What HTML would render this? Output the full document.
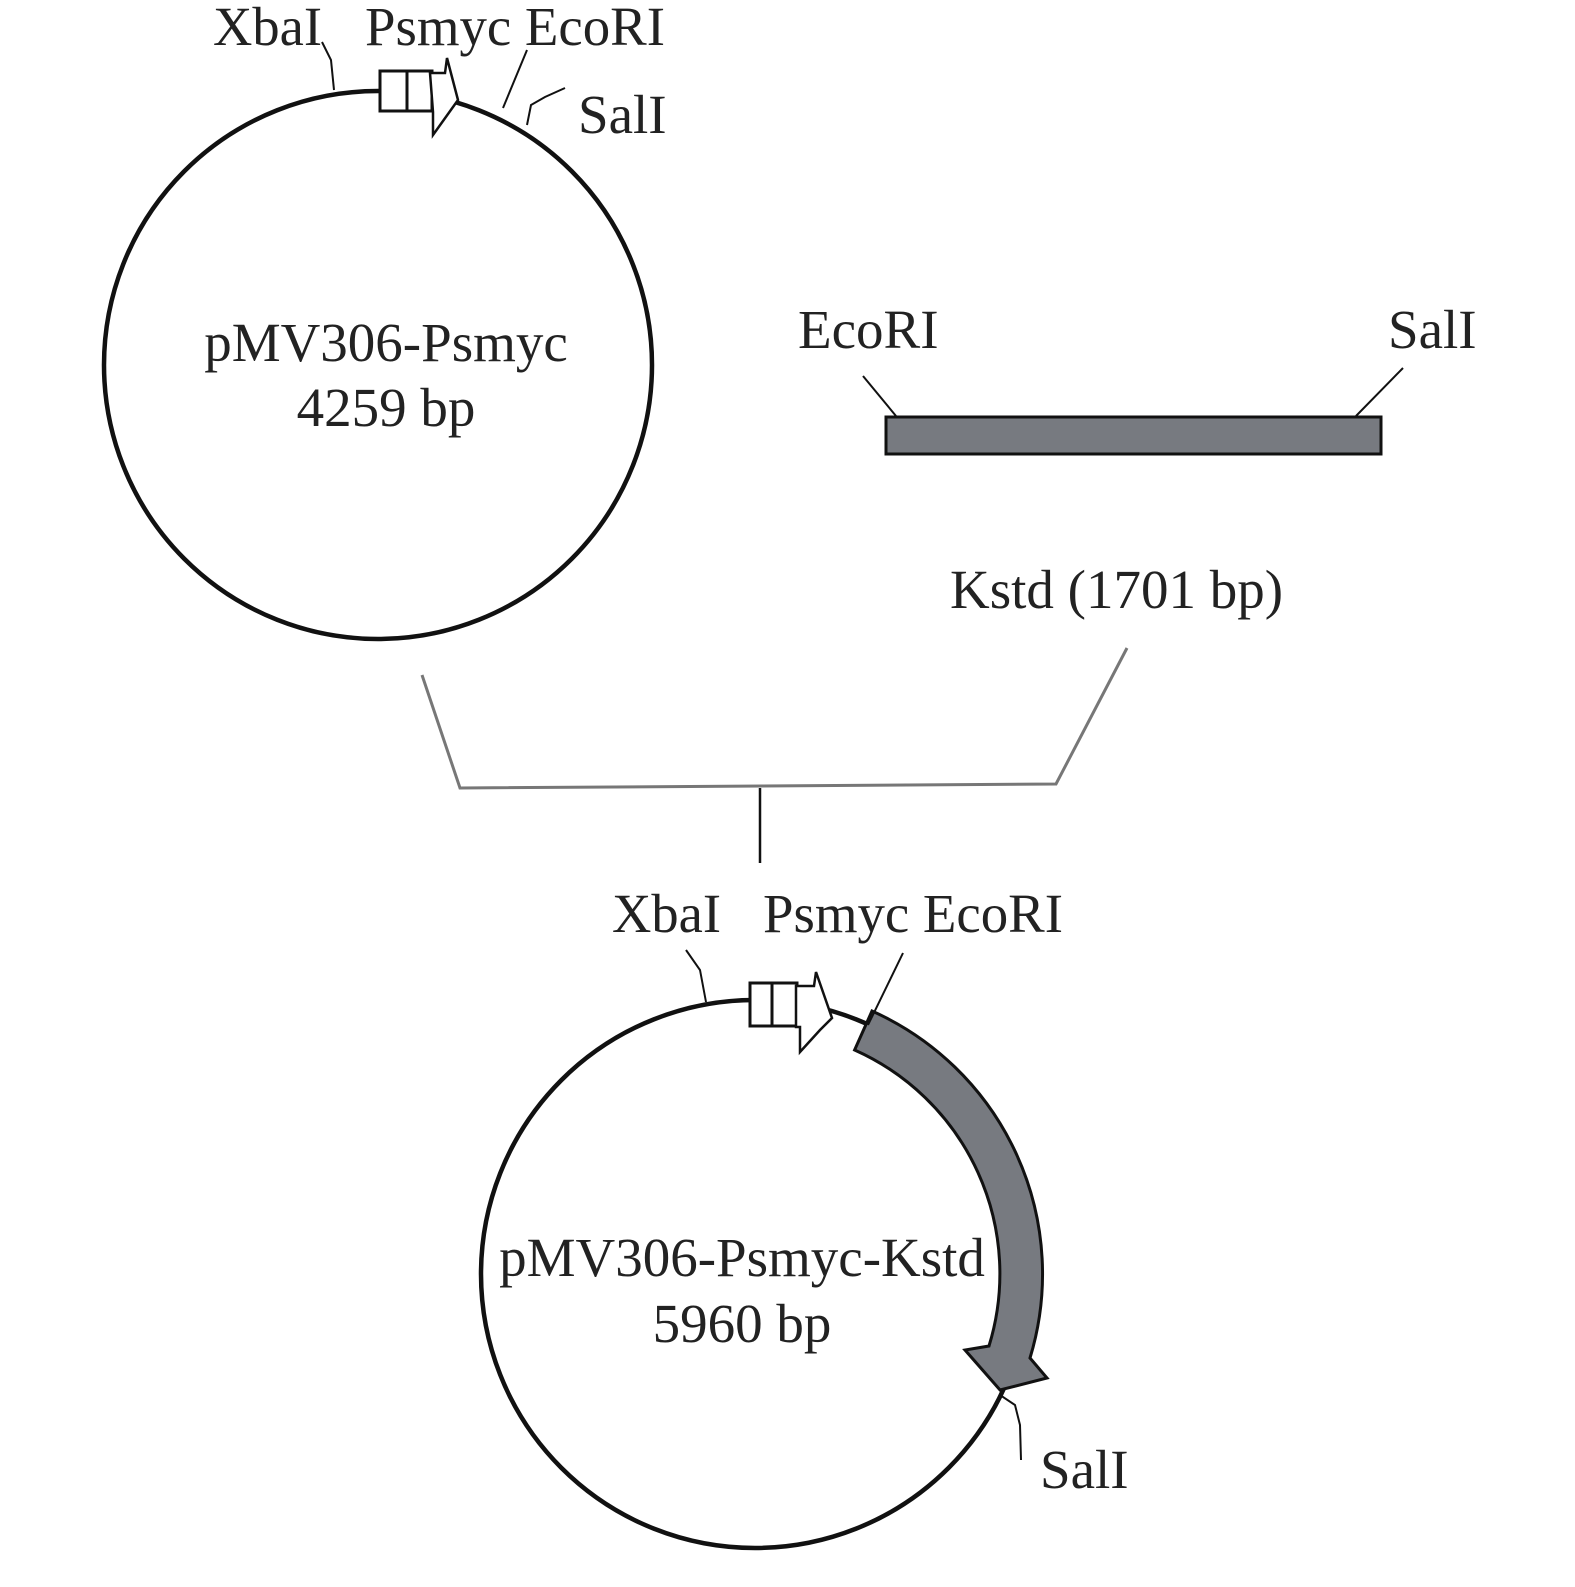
<!DOCTYPE html>
<html><head><style>html,body{margin:0;padding:0;background:#fff}</style></head><body>
<svg width="1575" height="1582" viewBox="0 0 1575 1582" xmlns="http://www.w3.org/2000/svg" font-family="Liberation Serif, serif" font-size="55" fill="#222">
<!-- top plasmid -->
<circle cx="378" cy="365" r="274" fill="none" stroke="#111" stroke-width="4.5"/>
<rect x="380" y="71" width="52" height="40" fill="#fff" stroke="#111" stroke-width="3"/>
<line x1="407" y1="71" x2="407" y2="111" stroke="#111" stroke-width="3"/>
<polygon points="430,73 445,73 447,58 458,100 433,135 433,112" fill="#fff" stroke="#111" stroke-width="2.5"/>
<polyline points="334,90 331,60 322,42" fill="none" stroke="#111" stroke-width="2"/>
<line x1="503" y1="108" x2="527" y2="50" stroke="#111" stroke-width="2"/>
<polyline points="527,125 531,105 545,97 565,88" fill="none" stroke="#111" stroke-width="2"/>
<text x="213" y="45" textLength="109" lengthAdjust="spacingAndGlyphs">XbaI</text>
<text x="365" y="45" textLength="300" lengthAdjust="spacingAndGlyphs">Psmyc EcoRI</text>
<text x="578" y="133">SalI</text>
<text x="386" y="361" text-anchor="middle">pMV306-Psmyc</text>
<text x="386" y="426" text-anchor="middle">4259 bp</text>
<!-- fragment -->
<text x="798" y="348">EcoRI</text>
<text x="1388" y="348">SalI</text>
<line x1="863" y1="376" x2="896" y2="416" stroke="#111" stroke-width="2"/>
<line x1="1403" y1="368" x2="1356" y2="416" stroke="#111" stroke-width="2"/>
<rect x="886" y="417" width="495" height="37" fill="#777a80" stroke="#111" stroke-width="3"/>
<text x="950" y="608">Kstd (1701 bp)</text>
<!-- bracket -->
<polyline points="422,675 460,788 1056,784 1127,648" fill="none" stroke="#777" stroke-width="3"/>
<line x1="760" y1="788" x2="760" y2="863" stroke="#111" stroke-width="2.5"/>
<!-- bottom plasmid -->
<circle cx="755" cy="1274" r="274" fill="none" stroke="#111" stroke-width="4.5"/>
<path d="M 872,1011 A 288 288 0 0 1 1030,1358 L 1047,1378 L 1000,1390 L 965,1350 L 989,1346 A 245 245 0 0 0 854.6,1050 Z" fill="#777a80" stroke="#111" stroke-width="3"/>
<rect x="750" y="983" width="47" height="43" fill="#fff" stroke="#111" stroke-width="3"/>
<line x1="772" y1="983" x2="772" y2="1026" stroke="#111" stroke-width="3"/>
<polygon points="796,986 814,986 816,972 832,1018 820,1030 800,1052 800,1027 796,1027" fill="#fff" stroke="#111" stroke-width="2.5"/>
<polyline points="706,1002 700,970 686,950" fill="none" stroke="#111" stroke-width="2"/>
<line x1="868" y1="1025" x2="903" y2="953" stroke="#111" stroke-width="2"/>
<polyline points="1000,1395 1015,1405 1020,1425 1021,1460" fill="none" stroke="#111" stroke-width="2"/>
<text x="612" y="932" textLength="109" lengthAdjust="spacingAndGlyphs">XbaI</text>
<text x="763" y="932" textLength="300" lengthAdjust="spacingAndGlyphs">Psmyc EcoRI</text>
<text x="742" y="1276" text-anchor="middle">pMV306-Psmyc-Kstd</text>
<text x="742" y="1342" text-anchor="middle">5960 bp</text>
<text x="1040" y="1488">SalI</text>
</svg>
</body></html>
